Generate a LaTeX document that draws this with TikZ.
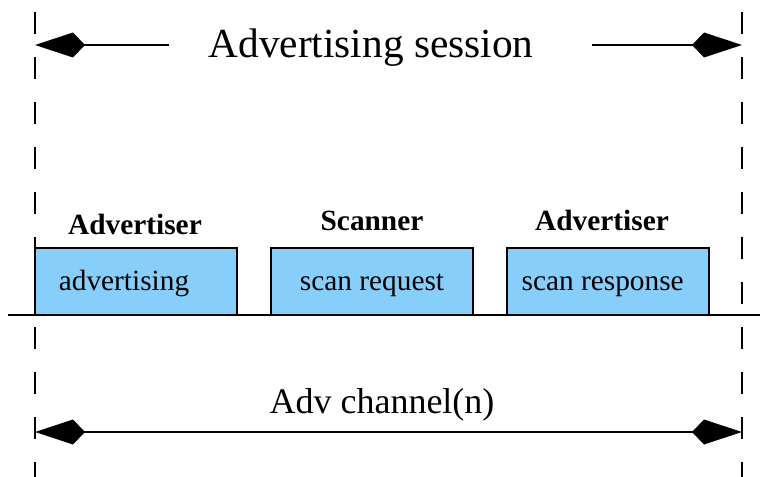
\documentclass[tikz,border=0pt]{standalone}
\usepackage{fontspec}
\setmainfont{Liberation Serif}
\usetikzlibrary{arrows.meta}
\definecolor{pktblue}{RGB}{135,206,250}
\tikzset{
  diam/.tip={Kite[length=37.5pt,width=18.75pt,inset=9pt]},
  packet/.style={draw,line width=1.8pt,fill=pktblue,minimum width=151.5pt,
    minimum height=50.25pt,inner sep=0pt,outer sep=0pt,anchor=south west},
  pkttext/.style={font=\fontsize{22}{26}\selectfont,anchor=base},
  role/.style={font=\bfseries\fontsize{22}{26}\selectfont,anchor=base},
  bound/.style={line width=2pt,dash pattern=on 16.5pt off 17.25pt},
}
\begin{document}
\begin{tikzpicture}[x=0.75pt,y=-0.75pt]
    \useasboundingbox (0,0) rectangle (760,477);
    %% session limits
    \coordinate (ltop) at (35,12);
    \coordinate (lbot) at (35,477);
    \coordinate (rtop) at (742,12);
    \coordinate (rbot) at (742,477);
    \draw[bound] (ltop) -- (lbot);
    \draw[bound] (rtop) -- (rbot);
    %% session arrows
    \node[font=\fontsize{31}{36}\selectfont,anchor=base] (title) at (371,58) {Advertising session};
    \coordinate (tl) at (169,45);
    \coordinate (tr) at (592,45);
    \draw[line width=2.2pt,-diam] (tl) -- (ltop |- tl);
    \draw[line width=2.2pt,-diam] (tr) -- (rtop |- tr);
    %% air line
    \coordinate (air0) at (8,315);
    \coordinate (air1) at (760,315);
    \draw[line width=1.8pt] (air0) -- (air1);
    %% packets
    \node[packet] (adv) at (35,315) {};
    \node[packet] (req) at (271,315) {};
    \node[packet] (rsp) at (507,315) {};
    \node[pkttext] (advt) at ([xshift=-9pt,yshift=-7pt]adv.center) {advertising};
    \node[pkttext] (reqt) at ([yshift=-6.5pt]req.center) {scan request};
    \node[pkttext] (rspt) at ([xshift=-4pt,yshift=-7pt]rsp.center) {scan response};
    \node[role] (advr) at (135,235) {Advertiser};
    \node[role] (reqr) at (372,231) {Scanner};
    \node[role] (rspr) at (602,231) {Advertiser};
    %% channel
    \coordinate (cl) at (35,432);
    \coordinate (cr) at (742,432);
    \draw[line width=1.8pt,diam-diam] (cl) -- (cr);
    \node[font=\fontsize{27}{32}\selectfont,anchor=base] (chan) at (382,413) {Adv channel(n)};
\end{tikzpicture}
\end{document}
